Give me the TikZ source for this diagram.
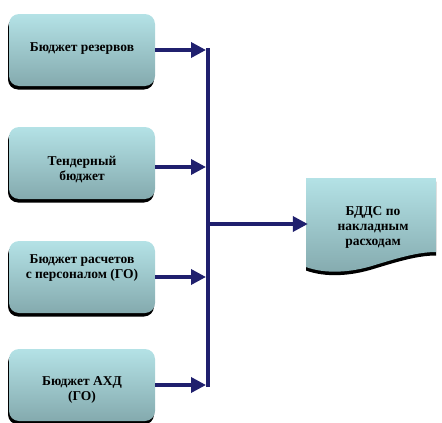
\documentclass[tikz,border=0pt]{standalone}
\usepackage{fontspec}
\setmainfont{Liberation Serif}
\usetikzlibrary{arrows.meta,shadows}
\definecolor{navy}{RGB}{32,32,110}
\definecolor{boxtop}{RGB}{180,226,230}
\definecolor{boxbot}{RGB}{132,170,174}
\begin{document}
\begin{tikzpicture}[x=1pt, y=-1pt,
    budget/.style={rounded corners=10pt, top color=boxtop, bottom color=boxbot,
      minimum width=146pt, minimum height=72pt,
      drop shadow={shadow xshift=-1pt, shadow yshift=-3.5pt, fill=black, opacity=1}},
    budgettext/.style={align=center, font=\fontsize{13.5}{15}\selectfont\bfseries},
    link/.style={navy, line width=3.5pt, -{Triangle[length=15pt, width=15pt]}},
    bar/.style={navy, line width=3.5pt}]
  \useasboundingbox (0,0) rectangle (442,423);
  % left column
  \node (b1) [budget] at (82,50) {};
  \node (b2) [budget] at (82,163) {};
  \node (b3) [budget] at (82,277) {};
  \node (b4) [budget] at (82,385) {};
  \node (t1) [budgettext] at (82,49) {Бюджет резервов};
  \node (t2) [budgettext] at (82,170) {Тендерный\\бюджет};
  \node (t3) [budgettext] at (82,268) {Бюджет расчетов\\с персоналом (ГО)};
  \node (t4) [budgettext] at (82,390) {Бюджет АХД\\(ГО)};
  % document
  \path[top color=boxtop, bottom color=boxbot,
        drop shadow={shadow xshift=0pt, shadow yshift=-3.5pt, fill=black, opacity=1}]
    (306,178) -- (436,178) -- (436,252)
    .. controls (418,252) and (398,258) .. (375,265)
    .. controls (350,273) and (325,274) .. (306,267) -- cycle;
  \node (doc) [budgettext, minimum width=130pt, minimum height=92pt] at (373,227)
    {БДДС по\\накладным\\расходам};
  \coordinate (top) at (208,48);
  \coordinate (bot) at (208,387);
  \coordinate (bus) at (206,0);
  \draw[bar] (top) -- (bot);
  \draw[link] (b1.east) -- (b1.east -| bus);
  \draw[link] ([yshift=-4pt]b2.east) -- ([yshift=-4pt]b2.east -| bus);
  \draw[link] (b3.east) -- (b3.east -| bus);
  \draw[link] (b4.east) -- (b4.east -| bus);
  \draw[link] ([yshift=3pt]doc.west -| top) -- ([yshift=3pt]doc.west);
\end{tikzpicture}
\end{document}
